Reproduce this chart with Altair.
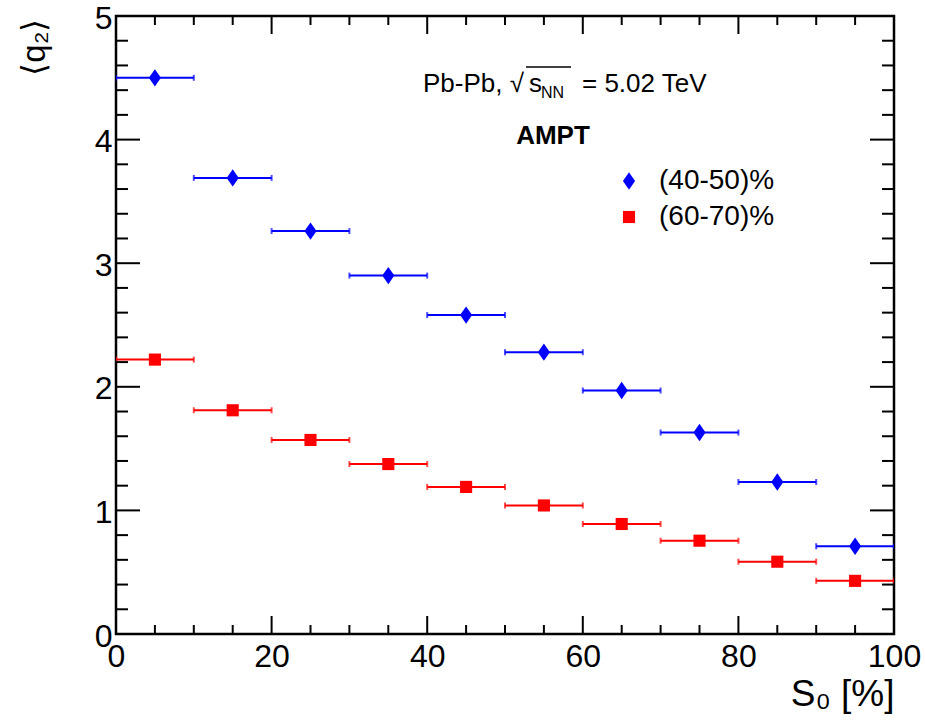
import altair as alt
import pandas as pd

# ---- data ----
s0_center = [5, 15, 25, 35, 45, 55, 65, 75, 85, 95]
s0_low = [0, 10, 20, 30, 40, 50, 60, 70, 80, 90]
s0_high = [10, 20, 30, 40, 50, 60, 70, 80, 90, 100]
q2_4050 = [4.50, 3.69, 3.26, 2.90, 2.58, 2.28, 1.97, 1.63, 1.23, 0.71]
q2_6070 = [2.22, 1.81, 1.57, 1.375, 1.19, 1.04, 0.89, 0.755, 0.585, 0.43]
series_names = ["(40-50)%", "(60-70)%"]
series_colors = ["#0000ff", "#ff0000"]
series_shapes = ["M0,-1L0.7,0L0,1L-0.7,0Z", "M-0.7,-0.7L0.7,-0.7L0.7,0.7L-0.7,0.7Z"]

x_major = [0, 20, 40, 60, 80, 100]
x_minor = [5, 10, 15, 25, 30, 35, 45, 50, 55, 65, 70, 75, 85, 90, 95]
y_major = [0, 1, 2, 3, 4, 5]
y_minor = [0.2, 0.4, 0.6, 0.8, 1.2, 1.4, 1.6, 1.8, 2.2, 2.4, 2.6, 2.8,
           3.2, 3.4, 3.6, 3.8, 4.2, 4.4, 4.6, 4.8]

x_title = "S₀ [%]"
y_title = "⟨q₂⟩"
energy_pre = "Pb-Pb, √"
energy_s = "s"
energy_sub = "NN"
energy_post = "= 5.02 TeV"
model_label = "AMPT"

W, H = 778, 618
FONT = "Liberation Sans"

rows = []
for name, vals in zip(series_names, [q2_4050, q2_6070]):
    for c, lo, hi, v in zip(s0_center, s0_low, s0_high, vals):
        rows.append(dict(series=name, s0=c, lo=lo, hi=hi, q2=v))
df = pd.DataFrame(rows)

xscale = alt.Scale(domain=[0, 100], nice=False, zero=False)
yscale = alt.Scale(domain=[0, 5], nice=False, zero=False)

legend = alt.Legend(
    title=None, orient="none", legendX=499, legendY=151, padding=0,
    symbolSize=300, symbolStrokeWidth=0, symbolOpacity=1,
    labelFontSize=28, labelFont=FONT, labelColor="black", labelOffset=16,
    rowPadding=8, labelLimit=300,
)
color_scale = alt.Scale(domain=series_names, range=series_colors)
shape_scale = alt.Scale(domain=series_names, range=series_shapes)

x_axis = alt.Axis(
    values=x_major, ticks=False, tickSize=0, domain=False, grid=False,
    labelFontSize=32, labelFont=FONT, labelColor="black", labelPadding=7,
    labelFlush=False, labelOverlap=False, format="d",
    title=x_title, titleFontSize=37, titleFont=FONT, titleFontWeight="normal",
    titleColor="black", titleAnchor="end", titleAlign="right", titleX=W, titleY=71,
    titleBaseline="alphabetic",
)
y_axis = alt.Axis(
    values=y_major, ticks=False, tickSize=0, domain=False, grid=False,
    labelFontSize=32, labelFont=FONT, labelColor="black", labelPadding=4,
    labelFlush=False, labelOverlap=False, format="d", labelBaseline="middle",
    labelOffset=2,
    title=y_title, titleFontSize=33, titleFont=FONT, titleFontWeight="normal",
    titleColor="black", titleAngle=270, titleAlign="right", titleBaseline="middle",
    titleX=-82, titleY=2,
)


def X(field):
    return alt.X(field, scale=xscale, axis=x_axis, title=x_title)


def Y(field):
    return alt.Y(field, scale=yscale, axis=y_axis, title=y_title)


def C():
    return alt.Color("series:N", scale=color_scale, legend=legend)


base = alt.Chart(df)

bars = base.mark_rule(strokeWidth=2, clip=True).encode(
    x=X("lo:Q"), x2="hi:Q", y=Y("q2:Q"), color=C(),
)

caps = base.transform_fold(["lo", "hi"], as_=["end", "xe"]).mark_tick(
    orient="vertical", size=6, thickness=2, clip=True
).encode(x=X("xe:Q"), y=Y("q2:Q"), color=C())

points = base.mark_point(filled=True, opacity=1, size=300, strokeWidth=0).encode(
    x=X("s0:Q"), y=Y("q2:Q"), color=C(),
    shape=alt.Shape("series:N", scale=shape_scale, legend=legend),
)


def xticks(vals, length, top):
    d = pd.DataFrame({"v": vals})
    y0 = 0 if top else H
    y1 = length if top else H - length
    return alt.Chart(d).mark_rule(color="black", strokeWidth=2).encode(
        x=X("v:Q"), y=alt.value(y0), y2=alt.value(y1)
    )


def yticks(vals, length, right):
    d = pd.DataFrame({"v": vals})
    x0 = W if right else 0
    x1 = W - length if right else length
    return alt.Chart(d).mark_rule(color="black", strokeWidth=2).encode(
        y=Y("v:Q"), x=alt.value(x0), x2=alt.value(x1)
    )


ticks = [
    xticks(x_major, 18, False), xticks(x_minor, 9, False),
    xticks(x_major, 18, True), xticks(x_minor, 9, True),
    yticks(y_major, 24, False), yticks(y_minor, 12, False),
    yticks(y_major, 24, True), yticks(y_minor, 12, True),
]


def label(text, x, y, size, align="left", weight="normal"):
    d = pd.DataFrame({"t": [text]})
    return alt.Chart(d).mark_text(
        font=FONT, fontSize=size, fontWeight=weight, align=align,
        baseline="alphabetic", color="black",
    ).encode(text="t:N", x=alt.value(x), y=alt.value(y))


texts = [
    label(energy_pre, 307, 76, 26),
    label(energy_s, 413, 76, 26),
    label(energy_sub, 425, 82, 16),
    label(energy_post, 466, 76, 26),
    label(model_label, 437, 128, 26, align="center", weight="bold"),
]
overline = alt.Chart(pd.DataFrame({"t": [energy_s]})).mark_rule(color="black", strokeWidth=1.5).encode(
    x=alt.value(410), x2=alt.value(455), y=alt.value(51)
)

chart = alt.layer(bars, caps, points, *ticks, *texts, overline).properties(
    width=W, height=H,
    autosize=alt.AutoSizeParams(type="none"),
    padding={"left": 116, "top": 16, "right": 31, "bottom": 86},
    background="white",
).configure_view(stroke="black", strokeWidth=2.5)

chart.save("out.html", embed_options={"renderer": "svg", "actions": False})
